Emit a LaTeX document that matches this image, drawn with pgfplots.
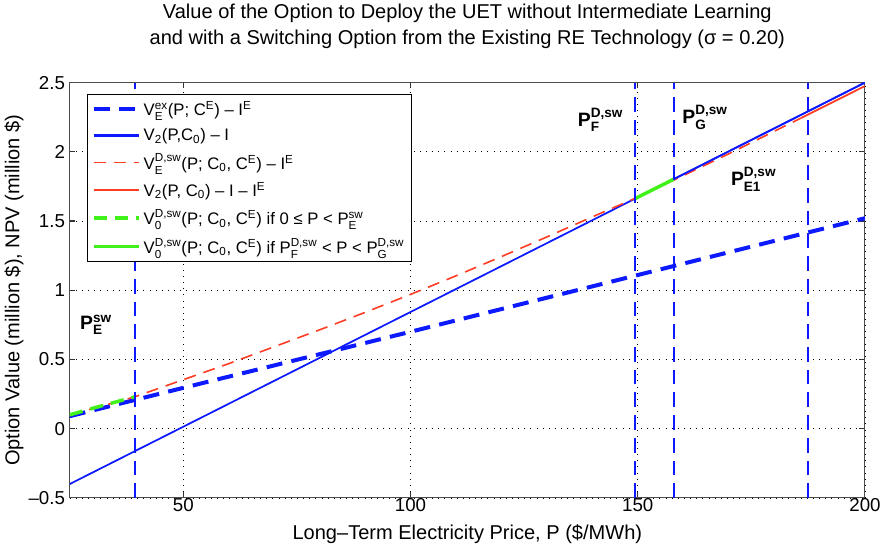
\documentclass[border=0pt]{standalone}
\usepackage{amsmath}
\usepackage{fontspec}
\setmainfont{Liberation Sans}
\usepackage{pgfplots}
\pgfplotsset{compat=1.18}
\newcommand{\SP}[2]{\ensuremath{^{\text{#1}}_{\text{#2}}}}
\definecolor{mblue}{rgb}{0.05,0.1,1}
\definecolor{mred}{rgb}{1,0.24,0.14}
\definecolor{mgreen}{rgb}{0.25,0.95,0.1}
\begin{document}
\begin{tikzpicture}
\begin{axis}[
  scale only axis, width=595.5pt, height=311pt,
  xmin=25, xmax=200, ymin=-0.5, ymax=2.5,
  xtick={50,100,150,200},
  ytick={-0.5,0,0.5,1,1.5,2,2.5},
  yticklabels={–0.5,0,0.5,1,1.5,2,2.5},
  xticklabel style={font=\fontsize{14}{16}\selectfont, yshift=3pt},
  yticklabel style={font=\fontsize{14}{16}\selectfont},
  /pgf/number format/assume math mode=true,
  grid=major,
  major grid style={draw=black, line width=0.5pt, dash pattern=on 0.6pt off 4pt},
  axis line style={line width=0.8pt, draw=black!70},
  tick style={draw=black!80, line width=0.8pt},
  tick align=inside,
  title={Value of the Option to Deploy the UET without Intermediate Learning\\and with a Switching Option from the Existing RE Technology (σ = 0.20)},
  title style={align=center, font=\fontsize{15}{19}\selectfont, yshift=16pt},
  xlabel={Long–Term Electricity Price, P (\$/MWh)},
  ylabel={Option Value (million \$), NPV (million \$)},
  label style={font=\fontsize{15}{17}\selectfont},
  xlabel style={yshift=-3pt},
  ylabel style={yshift=-3pt},
  legend cell align=left,
  legend style={at={(0.022,0.972)}, anchor=north west, font=\fontsize{12.5}{14}\selectfont,
    line width=0.6pt, row sep=4.5pt, inner sep=3pt},
  legend image code/.code={\draw[#1] (0pt,0pt) -- (34pt,0pt);},
]
% legend-order plots
\addplot[draw=mblue, line width=3pt, dash pattern=on 12pt off 7pt] coordinates {(25,0.09) (50,0.295) (100,0.70) (150,1.11) (200,1.52)};
\addlegendentry{V\SP{ex}{E}(P; C\SP{E}{}) – I\SP{E}{}}
\addplot[draw=mblue, line width=1.3pt, legend image post style={line width=1.6pt}] coordinates {(25,-0.40) (200,2.50)};
\addlegendentry{V\textsubscript{2}(P,C\textsubscript{0}) – I}
\addplot[draw=mred, line width=1.2pt, dash pattern=on 9pt off 6pt] coordinates {(25,0.10) (30,0.145) (35,0.19) (39.3,0.23) (50,0.354) (60,0.47) (70,0.592) (80,0.714) (90,0.84) (100,0.97) (110,1.104) (120,1.243) (130,1.385) (140,1.53) (149.5,1.665) (157.9,1.795) (170,1.985) (186,2.245)};
\addlegendentry{V\SP{D,sw}{E}(P; C\textsubscript{0}, C\SP{E}{}) – I\SP{E}{}}
\addplot[draw=mred, line width=1.3pt, legend image post style={line width=1.5pt}] coordinates {(186,2.245) (200,2.475)};
\addlegendentry{V\textsubscript{2}(P, C\textsubscript{0}) – I – I\SP{E}{}}
\addplot[draw=mgreen, line width=2.6pt, dash pattern=on 10pt off 6pt] coordinates {(25,0.10) (32,0.165) (39.3,0.23)};
\addlegendentry{V\SP{D,sw}{0}(P; C\textsubscript{0}, C\SP{E}{}) if 0 ≤ P < P\SP{sw}{E}}
\addplot[draw=mgreen, line width=2.6pt] coordinates {(149.5,1.663) (157.9,1.802)};
\addlegendentry{V\SP{D,sw}{0}(P; C\textsubscript{0}, C\SP{E}{}) if P\SP{D,sw}{F} < P < P\SP{D,sw}{G}}
% redraw blue solid on top where it overlaps
\addplot[draw=mblue, line width=1.3pt, forget plot] coordinates {(157.9,1.802) (200,2.50)};
% vertical lines
\addplot[draw=mblue, line width=1.5pt, dash pattern=on 11pt off 6pt, forget plot] coordinates {(39.3,-0.5) (39.3,2.5)};
\addplot[draw=mblue, line width=1.5pt, dash pattern=on 11pt off 6pt, forget plot] coordinates {(149.5,-0.5) (149.5,2.5)};
\addplot[draw=mblue, line width=1.5pt, dash pattern=on 11pt off 6pt, forget plot] coordinates {(157.9,-0.5) (157.9,2.5)};
\addplot[draw=mblue, line width=1.5pt, dash pattern=on 11pt off 6pt, forget plot] coordinates {(187.4,-0.5) (187.4,2.5)};
% annotations
\node[font=\fontsize{14.5}{16}\selectfont\bfseries] at (axis cs:30.8,0.75) {P\SP{sw}{E}};
\node[font=\fontsize{14.5}{16}\selectfont\bfseries] at (axis cs:141.8,2.23) {P\SP{D,sw}{F}};
\node[font=\fontsize{14.5}{16}\selectfont\bfseries] at (axis cs:164.8,2.25) {P\SP{D,sw}{G}};
\node[font=\fontsize{14.5}{16}\selectfont\bfseries] at (axis cs:175.5,1.80) {P\SP{D,sw}{E1}};
\node[anchor=south west, font=\fontsize{13}{15}\selectfont, inner sep=1pt] at (rel axis cs:0,1) {\hspace{2pt}x 10\textsuperscript{4}};
\end{axis}
\end{tikzpicture}
\end{document}
